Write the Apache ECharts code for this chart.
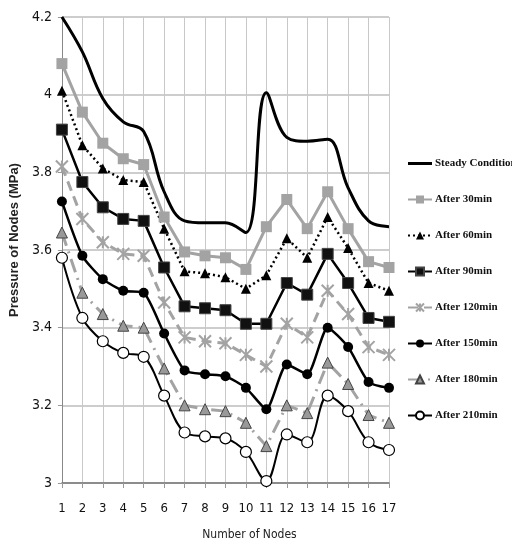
<!DOCTYPE html>
<html>
<head>
<meta charset="utf-8"/>
<title>Pressure of Nodes</title>
<script src="https://cdn.jsdelivr.net/npm/echarts@6/dist/echarts.min.js"></script>
<style>
  html, body { margin: 0; padding: 0; background: #fff; }
  #main { width: 512px; height: 546px; }
</style>
</head>
<body>
<div id="main"></div>
<script type="text/javascript">
    // node numbers on x axis
    var nodes = ['1','2','3','4','5','6','7','8','9','10','11','12','13','14','15','16','17'];

    // pressure values (MPa)
    var steady  = [4.20, 4.11, 3.99, 3.93, 3.905, 3.75, 3.675, 3.67, 3.67, 3.645, 4.005, 3.89, 3.88, 3.885, 3.76, 3.675, 3.66];
    var after30  = [4.08, 3.955, 3.875, 3.835, 3.82, 3.685, 3.595, 3.585, 3.58, 3.55, 3.66, 3.73, 3.655, 3.75, 3.655, 3.57, 3.555];
    var after60  = [4.01, 3.87, 3.81, 3.78, 3.775, 3.655, 3.545, 3.54, 3.53, 3.50, 3.535, 3.63, 3.58, 3.685, 3.605, 3.515, 3.495];
    var after90  = [3.91, 3.775, 3.71, 3.68, 3.675, 3.555, 3.455, 3.45, 3.445, 3.41, 3.41, 3.515, 3.485, 3.59, 3.515, 3.425, 3.415];
    var after120 = [3.815, 3.68, 3.62, 3.59, 3.585, 3.465, 3.375, 3.365, 3.36, 3.33, 3.30, 3.41, 3.375, 3.495, 3.435, 3.35, 3.33];
    var after150 = [3.725, 3.585, 3.525, 3.495, 3.49, 3.385, 3.29, 3.28, 3.275, 3.245, 3.19, 3.305, 3.28, 3.40, 3.35, 3.26, 3.245];
    var after180 = [3.645, 3.49, 3.435, 3.405, 3.40, 3.295, 3.20, 3.19, 3.185, 3.155, 3.095, 3.20, 3.18, 3.31, 3.255, 3.175, 3.155];
    var after210 = [3.58, 3.425, 3.365, 3.335, 3.325, 3.225, 3.13, 3.12, 3.115, 3.08, 3.005, 3.125, 3.105, 3.225, 3.185, 3.105, 3.085];

    // y axis range
    var yMin = 3, yMax = 4.2, yStep = 0.2;

    var gray = '#a3a3a3';
    var narrow = "'DejaVu Sans Condensed', 'Liberation Sans', sans-serif";
    var boxX = 'path://M0,0L10,0L10,10L0,10Z';
    var star = 'path://M0,0L10,10M10,0L0,10M5,0L5,10';
    var plainLine = 'path://M0,0H0.1V0.1H0Z M0,3.5H26V6.5H0Z M0,9.9H0.1V10H0Z';

    var myChart = echarts.init(document.getElementById('main'));

    var option = {
        animation: false,
        backgroundColor: '#fff',
        grid: { left: 45, right: 123, top: 17, bottom: 60 },
        legend: {
            orient: 'vertical',
            left: 402,
            top: 153,
            itemWidth: 24,
            itemHeight: 10,
            itemGap: 25,
            data: [
                { name: 'Steady Condition', icon: plainLine, itemStyle: { color: '#000' } },
                'After 30min', 'After 60min', 'After 90min',
                'After 120min', 'After 150min', 'After 180min', 'After 210min'
            ],
            textStyle: {
                fontFamily: 'Liberation Serif',
                fontWeight: 'bold',
                fontSize: 11,
                color: '#111',
                padding: [0, 0, 0, -2]
            }
        },
        xAxis: {
            type: 'category',
            data: nodes,
            boundaryGap: false,
            name: 'Number of Nodes',
            nameLocation: 'middle',
            nameGap: 46,
            nameTextStyle: { fontFamily: narrow, fontSize: 12, color: '#222', padding: [0, 0, 0, 48] },
            axisLine: { lineStyle: { color: '#777', width: 1.5 } },
            axisTick: { show: true, length: 5, interval: 0, lineStyle: { color: '#999' } },
            axisLabel: { fontFamily: narrow, fontSize: 13, color: '#111', margin: 19, interval: 0 },
            splitLine: { show: true, interval: 0, lineStyle: { color: '#c8c8c8', width: 1 } }
        },
        yAxis: {
            type: 'value',
            min: yMin,
            max: yMax,
            interval: yStep,
            name: 'Pressure of Nodes (MPa)',
            nameLocation: 'middle',
            nameGap: 27,
            nameTextStyle: { fontFamily: 'Liberation Sans', fontWeight: 'bold', fontSize: 13, color: '#222', padding: [0, 0, 0, 20] },
            axisLine: { show: true, lineStyle: { color: '#888' } },
            axisTick: { show: true, length: 4, lineStyle: { color: '#999' } },
            axisLabel: { fontFamily: narrow, fontSize: 14, color: '#111', margin: 10 },
            splitLine: { show: true, lineStyle: { color: '#bdbdbd', width: 1.5 } }
        },
        series: [
            {
                name: 'Steady Condition', type: 'line', data: steady, smooth: 0.4,
                showSymbol: false, symbol: 'none',
                lineStyle: { color: '#000', width: 3 }, itemStyle: { color: '#000' }
            },
            {
                name: 'After 30min', type: 'line', data: after30,
                symbol: 'rect', symbolSize: 11,
                lineStyle: { color: gray, width: 3 }, itemStyle: { color: gray }
            },
            {
                name: 'After 60min', type: 'line', data: after60,
                symbol: 'triangle', symbolSize: 10,
                lineStyle: { color: '#000', width: 2.5, type: [2, 3] }, itemStyle: { color: '#000' }
            },
            {
                name: 'After 90min', type: 'line', data: after90,
                symbol: boxX, symbolSize: 11,
                lineStyle: { color: '#000', width: 2.5 }, itemStyle: { color: '#111', borderColor: '#444', borderWidth: 1 }
            },
            {
                name: 'After 120min', type: 'line', data: after120,
                symbol: star, symbolSize: 12,
                lineStyle: { color: gray, width: 3, type: [10, 6] },
                itemStyle: { color: gray, borderColor: gray, borderWidth: 2 }
            },
            {
                name: 'After 150min', type: 'line', data: after150, smooth: 0.2,
                symbol: 'circle', symbolSize: 10,
                lineStyle: { color: '#000', width: 2.5 }, itemStyle: { color: '#000' }
            },
            {
                name: 'After 180min', type: 'line', data: after180,
                symbol: 'triangle', symbolSize: 11,
                lineStyle: { color: gray, width: 3, type: [14, 6, 2, 6] },
                itemStyle: { color: '#999', borderColor: '#444', borderWidth: 1 }
            },
            {
                name: 'After 210min', type: 'line', data: after210, smooth: 0.35,
                symbol: 'circle', symbolSize: 11,
                lineStyle: { color: '#000', width: 2 },
                itemStyle: { color: '#fff', borderColor: '#000', borderWidth: 1.2 }
            }
        ]
    };

    myChart.setOption(option);
</script>
</body>
</html>
